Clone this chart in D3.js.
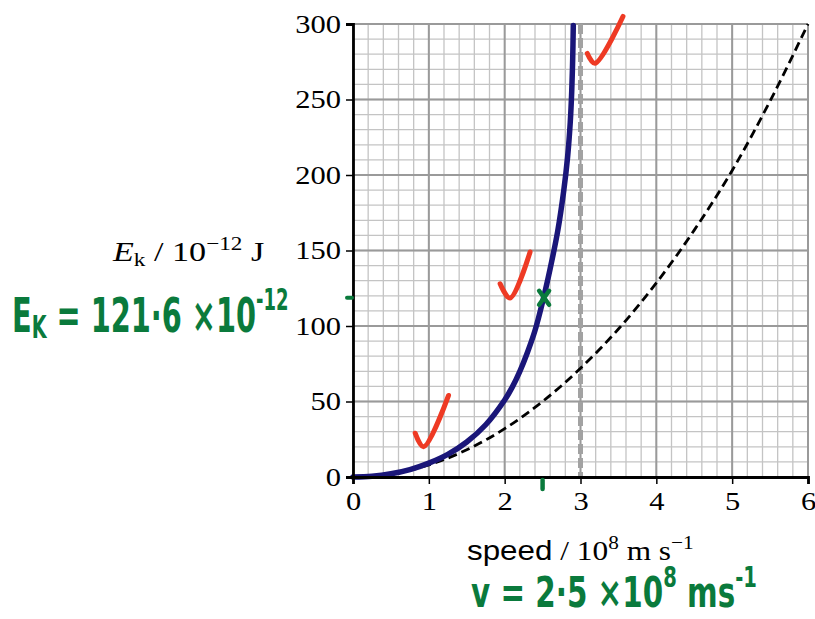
<!DOCTYPE html>
<html>
<head>
<meta charset="utf-8">
<script src="https://cdn.jsdelivr.net/npm/d3@7/dist/d3.min.js"></script>
<style>
  body { margin: 0; background: #fff; }
  svg { display: block; }
</style>
</head>
<body>
<div id="chart"></div>
<script>

// speed in 10^8 m/s, Ek in 10^-12 J
let relSpeed = [0, 0.25, 0.5, 0.75, 1, 1.25, 1.5, 1.75, 2, 2.1, 2.2, 2.3, 2.4, 2.5, 2.6, 2.7, 2.78, 2.83, 2.865, 2.884, 2.897, 2.905];
let relEnergy = [0, 0.5, 2.1, 4.9, 9.2, 15, 23.2, 34.6, 51, 59.5, 70, 82.5, 97, 116, 138, 163, 190, 212, 235, 255, 277, 299];

let classSpeed = [0, 0.5, 1, 1.5, 2, 2.5, 3, 3.5, 4, 4.5, 5, 5.5, 6];
let classEnergy = [0, 2, 8, 18, 32, 50, 72, 98, 128.5, 163.5, 203, 249, 300];

let lightSpeed = [3];

let xTicks = [0, 1, 2, 3, 4, 5, 6];
let yTicks = [0, 50, 100, 150, 200, 250, 300];

let svgWidth = 815, svgHeight = 619;
let margin = {top: 24, left: 353, right: 7, bottom: 142};
let width = svgWidth - margin.left - margin.right,
    height = svgHeight - margin.top - margin.bottom;

let x = d3.scaleLinear().domain([0, 6]).range([0, width]);
let y = d3.scaleLinear().domain([0, 300]).range([height, 0]);

let svg = d3.select("#chart").append("svg")
    .attr("width", svgWidth)
    .attr("height", svgHeight);

let g = svg.append("g")
    .attr("transform", "translate(" + margin.left + "," + margin.top + ")");

// grid: minor then major
let minorX = d3.range(0, 6.001, 0.2), minorY = d3.range(0, 300.1, 10);
g.selectAll(".vminor").data(minorX).enter().append("line")
    .attr("x1", d => x(d)).attr("x2", d => x(d))
    .attr("y1", 0).attr("y2", height)
    .attr("stroke", "#c4c4c4").attr("stroke-width", 1.3);
g.selectAll(".hminor").data(minorY).enter().append("line")
    .attr("y1", d => y(d)).attr("y2", d => y(d))
    .attr("x1", 0).attr("x2", width)
    .attr("stroke", "#c4c4c4").attr("stroke-width", 1.3);
g.selectAll(".vmajor").data(xTicks).enter().append("line")
    .attr("x1", d => x(d)).attr("x2", d => x(d))
    .attr("y1", 0).attr("y2", height)
    .attr("stroke", "#9a9a9a").attr("stroke-width", 2);
g.selectAll(".hmajor").data(yTicks).enter().append("line")
    .attr("y1", d => y(d)).attr("y2", d => y(d))
    .attr("x1", 0).attr("x2", width)
    .attr("stroke", "#9a9a9a").attr("stroke-width", 2);

// c line
g.selectAll(".cline").data(lightSpeed).enter().append("line")
    .attr("x1", d => x(d)).attr("x2", d => x(d))
    .attr("y1", y(300)).attr("y2", y(0))
    .attr("stroke", "#a2a2a2").attr("stroke-width", 5)
    .attr("stroke-dasharray", "10,4");

// classical curve
let classLine = d3.line()
    .x((d, i) => x(classSpeed[i]))
    .y(d => y(d))
    .curve(d3.curveMonotoneX);
g.append("path")
    .attr("d", classLine(classEnergy))
    .attr("fill", "none")
    .attr("stroke", "#000")
    .attr("stroke-width", 2.8)
    .attr("stroke-dasharray", "9,5");

// relativistic curve
let relLine = d3.line()
    .x((d, i) => x(relSpeed[i]))
    .y(d => y(d))
    .curve(d3.curveCatmullRom.alpha(0.5));
g.append("path")
    .attr("d", relLine(relEnergy))
    .attr("fill", "none")
    .attr("stroke", "#1a1679")
    .attr("stroke-width", 5.5)
    .attr("stroke-linecap", "round");

// axes
let serif = "'Liberation Serif', 'Times New Roman', serif";
let stretch = 1.22;
g.append("g")
    .attr("transform", "translate(0," + height + ")")
    .call(d3.axisBottom(x).tickValues(xTicks).tickSize(7).tickPadding(8).tickFormat(d3.format("d")))
    .call(a => a.select(".domain").attr("stroke-width", 2.8))
    .call(a => a.selectAll(".tick line").attr("stroke-width", 1.5))
    .call(a => a.selectAll("text")
        .attr("font-family", serif)
        .attr("font-size", 25)
        .attr("fill", "#000")
        .attr("transform", "scale(" + stretch + ",1)"));

g.append("g")
    .call(d3.axisLeft(y).tickValues(yTicks).tickSize(7).tickPadding(5).tickFormat(d3.format("d")))
    .call(a => a.select(".domain").attr("stroke-width", 2.8))
    .call(a => a.selectAll(".tick line").attr("stroke-width", 1.5))
    .call(a => a.selectAll("text")
        .attr("font-family", serif)
        .attr("font-size", 25)
        .attr("fill", "#000")
        .attr("x", -12 / stretch)
        .attr("transform", "scale(" + stretch + ",1)"));

// axis titles
let yt = svg.append("text")
    .attr("transform", "translate(113,261) scale(" + stretch + ",1)")
    .attr("font-family", serif).attr("font-size", 28);
yt.append("tspan").attr("font-style", "italic").text("E");
yt.append("tspan").attr("font-size", 19).attr("dy", 5).text("k");
yt.append("tspan").attr("dy", -5).text(" / 10");
yt.append("tspan").attr("font-size", 19).attr("dy", -11).text("\u221212");
yt.append("tspan").attr("dy", 11).text(" J");

let xt = svg.append("text")
    .attr("transform", "translate(467,560) scale(1.12,1)")
    .attr("font-family", serif).attr("font-size", 28);
xt.append("tspan").attr("font-family", "'Liberation Sans', Arial, sans-serif").text("speed");
xt.append("tspan").text(" / 10");
xt.append("tspan").attr("font-size", 19).attr("dy", -11).text("8");
xt.append("tspan").attr("dy", 11).text(" m s");
xt.append("tspan").attr("font-size", 19).attr("dy", -11).text("\u22121");

// marker's annotations (data units)
let ticks1 = [[0.82, 29], [0.93, 20], [1.26, 54]];
let ticks2 = [[1.94, 128], [2.07, 118.5], [2.335, 149]];
let ticks3 = [[3.09, 280.5], [3.19, 274], [3.56, 305]];
let tickLine = d3.line().x(d => x(d[0])).y(d => y(d[1])).curve(d3.curveCatmullRom);
[ticks1, ticks2, ticks3].forEach(t => {
  g.append("path").attr("d", tickLine(t))
    .attr("fill", "none").attr("stroke", "#ee3a24")
    .attr("stroke-width", 5).attr("stroke-linecap", "round").attr("stroke-linejoin", "round");
});

let green = "#0a7a3c";
let cross = [2.52, 118.7];
g.append("path")
    .attr("d", "M" + (x(cross[0]) - 5) + "," + (y(cross[1]) - 7) + "L" + (x(cross[0]) + 5) + "," + (y(cross[1]) + 7) +
               "M" + (x(cross[0]) + 5) + "," + (y(cross[1]) - 7) + "L" + (x(cross[0]) - 5) + "," + (y(cross[1]) + 7))
    .attr("stroke", green).attr("stroke-width", 4.5).attr("stroke-linecap", "round");
g.append("line")
    .attr("x1", x(0) - 6).attr("x2", x(0) - 1)
    .attr("y1", y(cross[1])).attr("y2", y(cross[1]))
    .attr("stroke", green).attr("stroke-width", 4).attr("stroke-linecap", "round");
g.append("line")
    .attr("x1", x(2.5)).attr("x2", x(2.5))
    .attr("y1", height + 3).attr("y2", height + 12)
    .attr("stroke", green).attr("stroke-width", 4.5).attr("stroke-linecap", "round");

let hand = "'DejaVu Sans', sans-serif";
let e1 = svg.append("text")
    .attr("transform", "translate(12,332) scale(0.6,1)")
    .attr("font-family", hand).attr("font-weight", "bold")
    .attr("font-size", 48).attr("fill", green);
e1.append("tspan").text("E");
e1.append("tspan").attr("font-size", 32).attr("dy", 6).text("K");
e1.append("tspan").attr("dy", -6).text(" = 121\u00b76 \u00d710");
e1.append("tspan").attr("font-size", 30).attr("dy", -22).text("-12");

let e2 = svg.append("text")
    .attr("transform", "translate(471,607) scale(0.7,1)")
    .attr("font-family", hand).attr("font-weight", "bold")
    .attr("font-size", 42).attr("fill", green);
e2.append("tspan").text("v = 2\u00b75 \u00d710");
e2.append("tspan").attr("font-size", 28).attr("dy", -20).text("8");
e2.append("tspan").attr("dy", 20).text(" ms");
e2.append("tspan").attr("font-size", 28).attr("dy", -20).text("-1");

</script>
</body>
</html>
